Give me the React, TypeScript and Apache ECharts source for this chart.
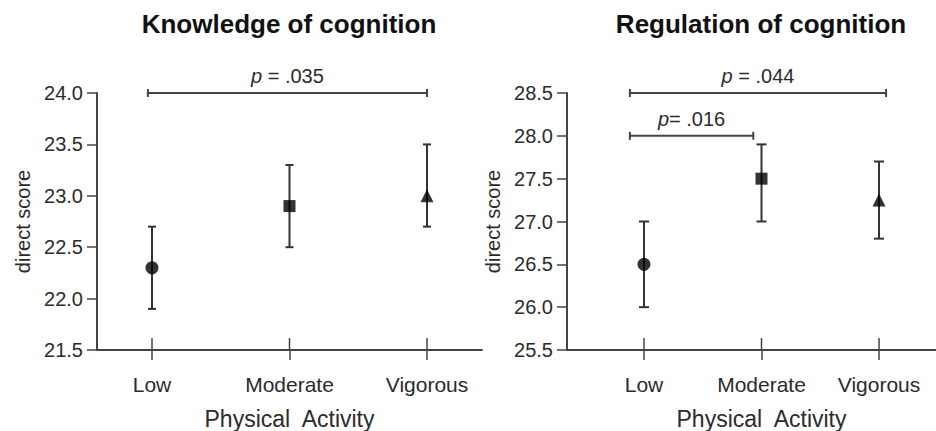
import React, { useEffect, useRef } from "react";
import * as echarts from "echarts";

const categories = ["Low", "Moderate", "Vigorous"];
const categoryPositions = [1, 2, 3];
const markerShapes = ["circle", "rect", "triangle"];

const knowledgeMean = [22.3, 22.9, 23.0];
const knowledgeLower = [21.9, 22.5, 22.7];
const knowledgeUpper = [22.7, 23.3, 23.5];

const regulationMean = [26.5, 27.5, 27.25];
const regulationLower = [26.0, 27.0, 26.8];
const regulationUpper = [27.0, 27.9, 27.7];

// brackets: [fromX, toX, level, label, separator]
const knowledgeBrackets: [number, number, number, string, string][] = [[0.97, 3.0, 24.0, ".035", " = "]];
const regulationBrackets: [number, number, number, string, string][] = [
  [0.88, 3.06, 28.5, ".044", " = "],
  [0.88, 1.93, 28.0, ".016", "= "],
];

const knowledgeTicks = { min: 21.5, max: 24.0, interval: 0.5 };
const regulationTicks = { min: 25.5, max: 28.5, interval: 0.5 };

const titles = ["Knowledge of cognition", "Regulation of cognition"];
const xAxisTitle = "Physical  Activity";
const yAxisTitle = "direct score";

const FONT = "'Liberation Sans', Arial, Helvetica, sans-serif";
const AXIS_COLOR = "#444";
const TEXT_COLOR = "#2b2b2b";

function makeXAxis(gridIndex: number, min: number, max: number) {
  return {
    gridIndex,
    type: "value",
    position: "bottom",
    min,
    max,
    axisLine: { show: true, lineStyle: { color: AXIS_COLOR, width: 2 } },
    axisTick: {
      show: true,
      customValues: categoryPositions,
      length: 10,
      lineStyle: { color: AXIS_COLOR, width: 1.5 },
    },
    axisLabel: {
      show: true,
      customValues: categoryPositions,
      formatter: (v: number) => categories[Math.round(v) - 1] ?? "",
      margin: 24,
      fontSize: 21,
      color: TEXT_COLOR,
      fontFamily: FONT,
    },
    splitLine: { show: false },
    name: xAxisTitle,
    nameLocation: "middle",
    nameGap: 57,
    nameTextStyle: { fontSize: 23, color: TEXT_COLOR, fontFamily: FONT },
  };
}

function makeYAxis(gridIndex: number, t: { min: number; max: number; interval: number }) {
  return {
    gridIndex,
    type: "value",
    min: t.min,
    max: t.max,
    interval: t.interval,
    axisLine: { show: true, lineStyle: { color: AXIS_COLOR, width: 2 } },
    axisTick: { show: true, length: 10, lineStyle: { color: AXIS_COLOR, width: 1.5 } },
    axisLabel: {
      formatter: (v: number) => v.toFixed(1),
      margin: 14,
      fontSize: 20,
      color: TEXT_COLOR,
      fontFamily: FONT,
    },
    splitLine: { show: false },
    name: yAxisTitle,
    nameLocation: "middle",
    nameGap: 64,
    nameRotate: 90,
    nameTextStyle: { fontSize: 20, color: TEXT_COLOR, fontFamily: FONT },
  };
}

// the part of each category tick that reaches up into the plot
function innerTickSeries(index: number, yMin: number) {
  return {
    type: "custom",
    xAxisIndex: index,
    yAxisIndex: index,
    data: categoryPositions.map((x) => [x, yMin]),
    renderItem: (params: any, api: any) => {
      const p = api.coord([api.value(0), api.value(1)]);
      return {
        type: "line",
        shape: { x1: p[0], y1: p[1], x2: p[0], y2: p[1] - 12 },
        style: { stroke: AXIS_COLOR, lineWidth: 1.5 },
      };
    },
    silent: true,
    z: 1,
  };
}

function errorBarSeries(index: number, lower: number[], upper: number[], cap: number) {
  return {
    type: "custom",
    xAxisIndex: index,
    yAxisIndex: index,
    data: categoryPositions.map((x, i) => [x, lower[i], upper[i]]),
    renderItem: (params: any, api: any) => {
      const x = api.value(0);
      const lo = api.coord([x, api.value(1)]);
      const hi = api.coord([x, api.value(2)]);
      const style = { stroke: "#333", lineWidth: 2 };
      return {
        type: "group",
        children: [
          { type: "line", shape: { x1: lo[0], y1: lo[1], x2: hi[0], y2: hi[1] }, style },
          { type: "line", shape: { x1: lo[0] - cap, y1: lo[1], x2: lo[0] + cap, y2: lo[1] }, style },
          { type: "line", shape: { x1: hi[0] - cap, y1: hi[1], x2: hi[0] + cap, y2: hi[1] }, style },
        ],
      };
    },
    z: 2,
  };
}

function markerSeries(index: number, mean: number[]) {
  return {
    type: "scatter",
    xAxisIndex: index,
    yAxisIndex: index,
    data: categoryPositions.map((x, i) => ({
      value: [x, mean[i]],
      symbol: markerShapes[i],
      symbolSize: markerShapes[i] === "rect" ? 12 : 13,
    })),
    itemStyle: { color: "#000" },
    z: 3,
  };
}

function bracketSeries(index: number, brackets: [number, number, number, string, string][]) {
  return {
    type: "custom",
    xAxisIndex: index,
    yAxisIndex: index,
    data: brackets.map((b) => [b[0], b[1], b[2]]),
    renderItem: (params: any, api: any) => {
      const b = brackets[params.dataIndex];
      const p1 = api.coord([api.value(0), api.value(2)]);
      const p2 = api.coord([api.value(1), api.value(2)]);
      const style = { stroke: "#444", lineWidth: 2 };
      return {
        type: "group",
        children: [
          { type: "line", shape: { x1: p1[0], y1: p1[1], x2: p2[0], y2: p2[1] }, style },
          { type: "line", shape: { x1: p1[0], y1: p1[1] - 4, x2: p1[0], y2: p1[1] + 4 }, style },
          { type: "line", shape: { x1: p2[0], y1: p2[1] - 4, x2: p2[0], y2: p2[1] + 4 }, style },
          {
            type: "text",
            x: (p1[0] + p2[0]) / 2,
            y: p1[1] - 17,
            style: {
              text: "{i|p}" + b[4] + b[3],
              align: "center",
              verticalAlign: "middle",
              fill: TEXT_COLOR,
              font: `20px ${FONT}`,
              rich: {
                i: { fontStyle: "italic", fontSize: 20, fontFamily: FONT, fill: TEXT_COLOR },
              },
            },
          },
        ],
      };
    },
    z: 2,
  };
}

export default function App() {
  const ref = useRef<HTMLDivElement>(null);
  useEffect(() => {
    if (!ref.current) return;
    const chart = echarts.init(ref.current, null, { renderer: "svg" });
    chart.setOption({
      animation: false,
      backgroundColor: "#fff",
      textStyle: { fontFamily: FONT },
      grid: [
        { left: 97, width: 385, top: 93, height: 257, outerBoundsMode: "none", containLabel: false },
        { left: 567, width: 389, top: 93, height: 257, outerBoundsMode: "none", containLabel: false },
      ],
      xAxis: [makeXAxis(0, 0.6, 3.4), makeXAxis(1, 0.345, 3.655)],
      yAxis: [makeYAxis(0, knowledgeTicks), makeYAxis(1, regulationTicks)],
      graphic: [
        {
          type: "text",
          x: 289,
          y: 24,
          style: {
            text: titles[0],
            align: "center",
            verticalAlign: "middle",
            fill: "#111",
            font: `bold 26px ${FONT}`,
          },
        },
        {
          type: "text",
          x: 761,
          y: 24,
          style: {
            text: titles[1],
            align: "center",
            verticalAlign: "middle",
            fill: "#111",
            font: `bold 26px ${FONT}`,
          },
        },
      ],
      series: [
        innerTickSeries(0, knowledgeTicks.min),
        errorBarSeries(0, knowledgeLower, knowledgeUpper, 4),
        markerSeries(0, knowledgeMean),
        bracketSeries(0, knowledgeBrackets),
        innerTickSeries(1, regulationTicks.min),
        errorBarSeries(1, regulationLower, regulationUpper, 5),
        markerSeries(1, regulationMean),
        bracketSeries(1, regulationBrackets),
      ],
    });
    return () => chart.dispose();
  }, []);
  return (
    <div
      ref={ref}
      style={{ position: "fixed", left: 0, top: 0, width: 936, height: 431, background: "#fff" }}
    />
  );
}
